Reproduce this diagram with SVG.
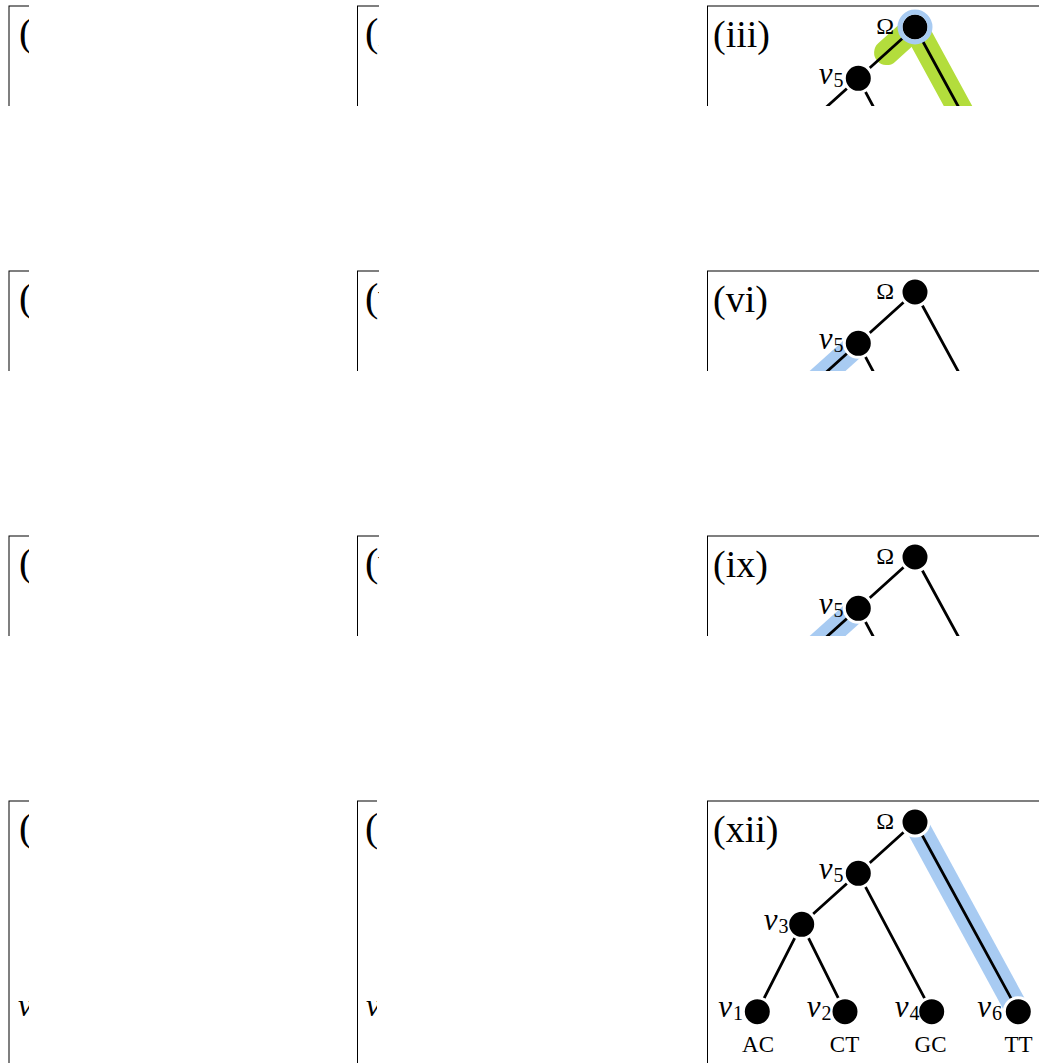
<svg xmlns="http://www.w3.org/2000/svg" width="1039" height="1063" viewBox="0 0 1039 1063">
  <style>
    .frame { fill: none; stroke: #000; stroke-width: 1; }
    .edge { stroke: #000; stroke-width: 2.8; stroke-linecap: round; }
    .node { fill: #000; stroke: #fff; stroke-width: 3; }
    .hl-blue { stroke: #a8cbf2; stroke-width: 24; fill: none; }
    .hl-green { stroke: #b3dd3c; stroke-width: 25; stroke-linecap: round; fill: none; }
    .ring { fill: none; stroke: #a8cbf2; stroke-width: 5; }
    .pl { font-family: "Liberation Serif", serif; font-size: 38px; fill: #000; }
    .plw { font-family: "Liberation Serif", serif; font-size: 40px; fill: #000; }
    .nl { font-family: "Liberation Serif", serif; font-size: 31px; font-style: italic; fill: #000; }
    .sub { font-size: 20px; font-style: normal; }
    .om { font-family: "Liberation Serif", serif; font-size: 24px; fill: #000; }
    .ll { font-family: "Liberation Serif", serif; font-size: 23px; fill: #000; text-anchor: middle; }
  </style>
  <defs>
    <clipPath id="clipL"><rect x="0" y="-10" width="29" height="110"/></clipPath>
    <clipPath id="clipM"><rect x="340" y="-10" width="39" height="110"/></clipPath>
    <clipPath id="clipR"><rect x="700" y="-10" width="339" height="110"/></clipPath>
    <clipPath id="clipLB"><rect x="0" y="-10" width="29" height="300"/></clipPath>
    <clipPath id="clipMB"><rect x="340" y="-10" width="37" height="300"/></clipPath>
  </defs>

  <rect width="1039" height="1063" fill="#fff"/>

  <!-- left column panels -->
  <g id="panel-i" transform="translate(0,6)" clip-path="url(#clipL)">
    <rect class="frame" x="9" y="0" width="320" height="260"/>
    <text class="plw" x="19" y="40">(i)</text>
  </g>
  <g id="panel-iv" transform="translate(0,271)" clip-path="url(#clipL)">
    <rect class="frame" x="9" y="0" width="320" height="260"/>
    <text class="plw" x="19" y="40">(iv)</text>
  </g>
  <g id="panel-vii" transform="translate(0,536)" clip-path="url(#clipL)">
    <rect class="frame" x="9" y="0" width="320" height="260"/>
    <text class="plw" x="19" y="40">(vii)</text>
  </g>
  <g id="panel-x" transform="translate(0,801)" clip-path="url(#clipLB)">
    <rect class="frame" x="9" y="0" width="320" height="280"/>
    <text class="plw" x="19" y="40">(x)</text>
    <text class="nl" x="18" y="215" style="font-size:32px">v<tspan class="sub" dy="4">1</tspan></text>
  </g>

  <!-- middle column panels -->
  <g id="panel-ii" transform="translate(0,6)" clip-path="url(#clipM)">
    <rect class="frame" x="357.5" y="0" width="320" height="260"/>
    <text class="plw" x="365" y="40">(ii)</text>
  </g>
  <g id="panel-v" transform="translate(0,271)" clip-path="url(#clipM)">
    <rect class="frame" x="357.5" y="0" width="320" height="260"/>
    <text class="plw" x="365" y="40">(v)</text>
  </g>
  <g id="panel-viii" transform="translate(0,536)" clip-path="url(#clipM)">
    <rect class="frame" x="357.5" y="0" width="320" height="260"/>
    <text class="plw" x="365" y="40">(viii)</text>
  </g>
  <g id="panel-xi" transform="translate(0,801)" clip-path="url(#clipMB)">
    <rect class="frame" x="357.5" y="0" width="320" height="280"/>
    <text class="plw" x="365" y="40">(xi)</text>
    <text class="nl" x="366" y="215" style="font-size:32px">v<tspan class="sub" dy="4">1</tspan></text>
  </g>

  <!-- right column, panel (iii): root ringed, root-to-v6 and half of root-to-v5 marked -->
  <g id="panel-iii" transform="translate(0,6)" clip-path="url(#clipR)">
    <rect class="frame" x="707.5" y="0" width="400" height="260"/>
    <text class="pl" x="713" y="41">(iii)</text>
    <g class="highlights">
      <line class="hl-green" x1="915" y1="21" x2="1018.3" y2="210.7"/>
      <line class="hl-green" x1="915" y1="21" x2="886.6" y2="46.6"/>
    </g>
    <g class="connectors">
      <line class="edge" x1="915" y1="21" x2="858.3" y2="72.3"/>
      <line class="edge" x1="915" y1="21" x2="1018.3" y2="210.7"/>
      <line class="edge" x1="858.3" y1="72.3" x2="801.7" y2="123.3"/>
      <line class="edge" x1="858.3" y1="72.3" x2="931.7" y2="210.7"/>
    </g>
    <g id="iii-omega"><circle class="node" cx="915" cy="21" r="14"/><circle class="ring" cx="915" cy="21" r="15"/><text class="om" x="894" y="28" text-anchor="end">Ω</text></g>
    <g id="iii-v5"><circle class="node" cx="858.3" cy="72.3" r="14"/><text class="nl" x="843.5" y="78" text-anchor="end">v<tspan class="sub" dx="1" dy="3">5</tspan></text></g>
  </g>

  <!-- right column, panel (vi): edge v5-v3 marked -->
  <g id="panel-vi" transform="translate(0,271)" clip-path="url(#clipR)">
    <rect class="frame" x="707.5" y="0" width="400" height="260"/>
    <text class="pl" x="713" y="41">(vi)</text>
    <g class="highlights">
      <line class="hl-blue" x1="858.3" y1="72.3" x2="801.7" y2="123.3"/>
    </g>
    <g class="connectors">
      <line class="edge" x1="915" y1="21" x2="858.3" y2="72.3"/>
      <line class="edge" x1="915" y1="21" x2="1018.3" y2="210.7"/>
      <line class="edge" x1="858.3" y1="72.3" x2="801.7" y2="123.3"/>
      <line class="edge" x1="858.3" y1="72.3" x2="931.7" y2="210.7"/>
    </g>
    <g id="vi-omega"><circle class="node" cx="915" cy="21" r="14"/><text class="om" x="894" y="28" text-anchor="end">Ω</text></g>
    <g id="vi-v5"><circle class="node" cx="858.3" cy="72.3" r="14"/><text class="nl" x="843.5" y="78" text-anchor="end">v<tspan class="sub" dx="1" dy="3">5</tspan></text></g>
  </g>

  <!-- right column, panel (ix): edge v5-v3 marked -->
  <g id="panel-ix" transform="translate(0,536)" clip-path="url(#clipR)">
    <rect class="frame" x="707.5" y="0" width="400" height="260"/>
    <text class="pl" x="713" y="41">(ix)</text>
    <g class="highlights">
      <line class="hl-blue" x1="858.3" y1="72.3" x2="801.7" y2="123.3"/>
    </g>
    <g class="connectors">
      <line class="edge" x1="915" y1="21" x2="858.3" y2="72.3"/>
      <line class="edge" x1="915" y1="21" x2="1018.3" y2="210.7"/>
      <line class="edge" x1="858.3" y1="72.3" x2="801.7" y2="123.3"/>
      <line class="edge" x1="858.3" y1="72.3" x2="931.7" y2="210.7"/>
    </g>
    <g id="ix-omega"><circle class="node" cx="915" cy="21" r="14"/><text class="om" x="894" y="28" text-anchor="end">Ω</text></g>
    <g id="ix-v5"><circle class="node" cx="858.3" cy="72.3" r="14"/><text class="nl" x="843.5" y="78" text-anchor="end">v<tspan class="sub" dx="1" dy="3">5</tspan></text></g>
  </g>

  <!-- right column, panel (xii): full tree, edge root-v6 marked -->
  <g id="panel-xii" transform="translate(0,801)">
    <rect class="frame" x="707.5" y="0" width="400" height="300"/>
    <text class="pl" x="713" y="41">(xii)</text>
    <g class="highlights">
      <line class="hl-blue" x1="915" y1="21" x2="1018.3" y2="210.7"/>
    </g>
    <g class="connectors">
      <line class="edge" x1="915" y1="21" x2="858.3" y2="72.3"/>
      <line class="edge" x1="915" y1="21" x2="1018.3" y2="210.7"/>
      <line class="edge" x1="858.3" y1="72.3" x2="801.7" y2="123.3"/>
      <line class="edge" x1="858.3" y1="72.3" x2="931.7" y2="210.7"/>
      <line class="edge" x1="801.7" y1="123.3" x2="757.3" y2="210.7"/>
      <line class="edge" x1="801.7" y1="123.3" x2="845" y2="210.7"/>
    </g>
    <g id="xii-omega"><circle class="node" cx="915" cy="21" r="14"/><text class="om" x="894" y="28" text-anchor="end">Ω</text></g>
    <g id="xii-v5"><circle class="node" cx="858.3" cy="72.3" r="14"/><text class="nl" x="843.5" y="78" text-anchor="end">v<tspan class="sub" dx="1" dy="3">5</tspan></text></g>
    <g id="xii-v3"><circle class="node" cx="801.7" cy="123.3" r="14"/><text class="nl" x="788.5" y="129" text-anchor="end">v<tspan class="sub" dx="1" dy="3">3</tspan></text></g>
    <g id="xii-v1"><circle class="node" cx="757.3" cy="210.7" r="14"/><text class="nl" x="743" y="216" text-anchor="end">v<tspan class="sub" dx="1" dy="3">1</tspan></text><text class="ll" x="758" y="251">AC</text></g>
    <g id="xii-v2"><circle class="node" cx="845" cy="210.7" r="14"/><text class="nl" x="831.5" y="216" text-anchor="end">v<tspan class="sub" dx="1" dy="3">2</tspan></text><text class="ll" x="844.5" y="251">CT</text></g>
    <g id="xii-v4"><circle class="node" cx="931.7" cy="210.7" r="14"/><text class="nl" x="919.5" y="216" text-anchor="end">v<tspan class="sub" dx="1" dy="3">4</tspan></text><text class="ll" x="930.5" y="251">GC</text></g>
    <g id="xii-v6"><circle class="node" cx="1018.3" cy="210.7" r="14"/><text class="nl" x="1002" y="216" text-anchor="end">v<tspan class="sub" dx="1" dy="3">6</tspan></text><text class="ll" x="1018.5" y="251">TT</text></g>
  </g>
</svg>
